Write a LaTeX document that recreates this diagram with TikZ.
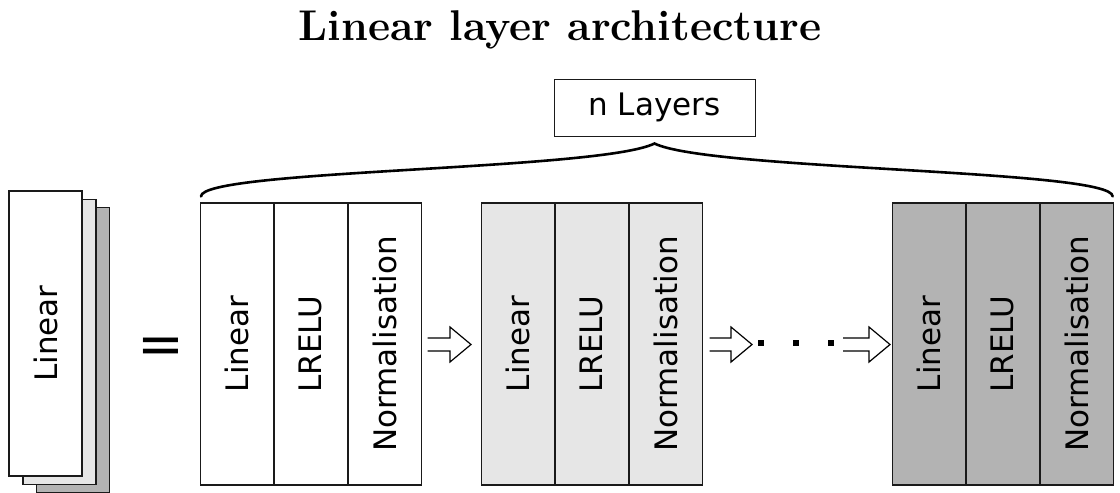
\documentclass[tikz,border=0pt]{standalone}
\usepackage{fontspec}
\newfontfamily\labelfont{DejaVu Sans}
\usetikzlibrary{calc}
\definecolor{lightfill}{HTML}{E6E6E6}
\definecolor{darkfill}{HTML}{B3B3B3}
\definecolor{edge}{HTML}{1A1A1A}
\tikzset{
  labeltext/.style={font=\labelfont\fontsize{31}{36}\selectfont},
  col/.style={labeltext, draw=edge, line width=1.2pt, rotate=90,
    minimum width=282pt, minimum height=72.7pt, inner sep=0pt},
  sheet/.style={labeltext, draw=edge, line width=1.2pt, rotate=90,
    minimum width=285pt, minimum height=73pt, inner sep=0pt},
  flowarrow/.style={draw=black, line width=1.2pt, line join=miter},
  dotmark/.style={fill=black, minimum size=5.5pt, inner sep=0pt},
  bracestyle/.style={draw=black, line width=2.6pt, line cap=round},
  countbox/.style={labeltext, draw=edge, line width=1pt,
    minimum width=201pt, minimum height=57pt, inner sep=0pt},
}
% one layer: Linear / LRELU / Normalisation columns side by side
\newcommand{\layerblock}[3]{%
  \node[col, fill=#3, anchor=north] (#1a) at (#2,344) {Linear};
  \node[col, fill=#3, anchor=north] (#1b) at (#1a.south) {LRELU};
  \node[col, fill=#3, anchor=north] (#1c) at (#1b.south) {Normalisation};
}
% hollow double-shaft arrow from #1 to #2 (horizontal)
\newcommand{\hollowarrow}[2]{%
  \draw[flowarrow] let \p1=(#1), \p2=(#2) in
    (\x1,\y1+6.5pt) -- (\x2-21pt,\y1+6.5pt) -- (\x2-21pt,\y1+17.5pt)
    -- (\x2,\y1) -- (\x2-21pt,\y1-17.5pt) -- (\x2-21pt,\y1-6.5pt)
    -- (\x1,\y1-6.5pt);
}
\begin{document}
\begin{tikzpicture}[x=1pt, y=-1pt]
  \useasboundingbox (0,0) rectangle (1120,493);

  % title
  \node[font=\bfseries\fontsize{43}{50}\selectfont, anchor=base] (title)
    at (560,40) {Linear layer architecture};

  % stacked sheets on the left
  \node[sheet, fill=darkfill] (s3) at (73,350) {};
  \node[sheet, fill=lightfill] (s2) at (59.5,342) {};
  \node[sheet, fill=white] (s1) at (45.5,333.5) {Linear};

  % equals sign
  \node[font=\labelfont\fontsize{56}{60}\selectfont] (eq) at (161,351) {=};

  % the layers
  \layerblock{bA}{200}{white}
  \layerblock{bB}{481}{lightfill}
  \layerblock{bC}{892}{darkfill}

  % arrows and ellipsis between layers
  \coordinate (a1s) at ($(bAc.south)+(6,0.5)$);
  \coordinate (a1e) at ($(bBa.north)+(-10,0.5)$);
  \coordinate (a2s) at ($(bBc.south)+(7,0.5)$);
  \coordinate (a2e) at (752,344.5);
  \coordinate (a3s) at (843,344.5);
  \coordinate (a3e) at ($(bCa.north)+(-2,0.5)$);
  \hollowarrow{a1s}{a1e}
  \hollowarrow{a2s}{a2e}
  \hollowarrow{a3s}{a3e}
  \node[dotmark] (d1) at (761,343) {};
  \node[dotmark] (d2) at (796,343) {};
  \node[dotmark] (d3) at (831,343) {};

  % layer count and brace
  \node[countbox] (layers) at (654.5,107.5) {n Layers};
  \coordinate (brL) at ($(bAa.north east)+(1,-6)$);
  \coordinate (brR) at ($(bCc.south east)+(-1,-6)$);
  \coordinate (brP) at ($(layers.south)+(0,7)$);
  \draw[bracestyle] (brL) .. controls +(0,-27) and +(-55,27) .. (brP)
    .. controls +(55,27) and +(0,-27) .. (brR);
\end{tikzpicture}
\end{document}
